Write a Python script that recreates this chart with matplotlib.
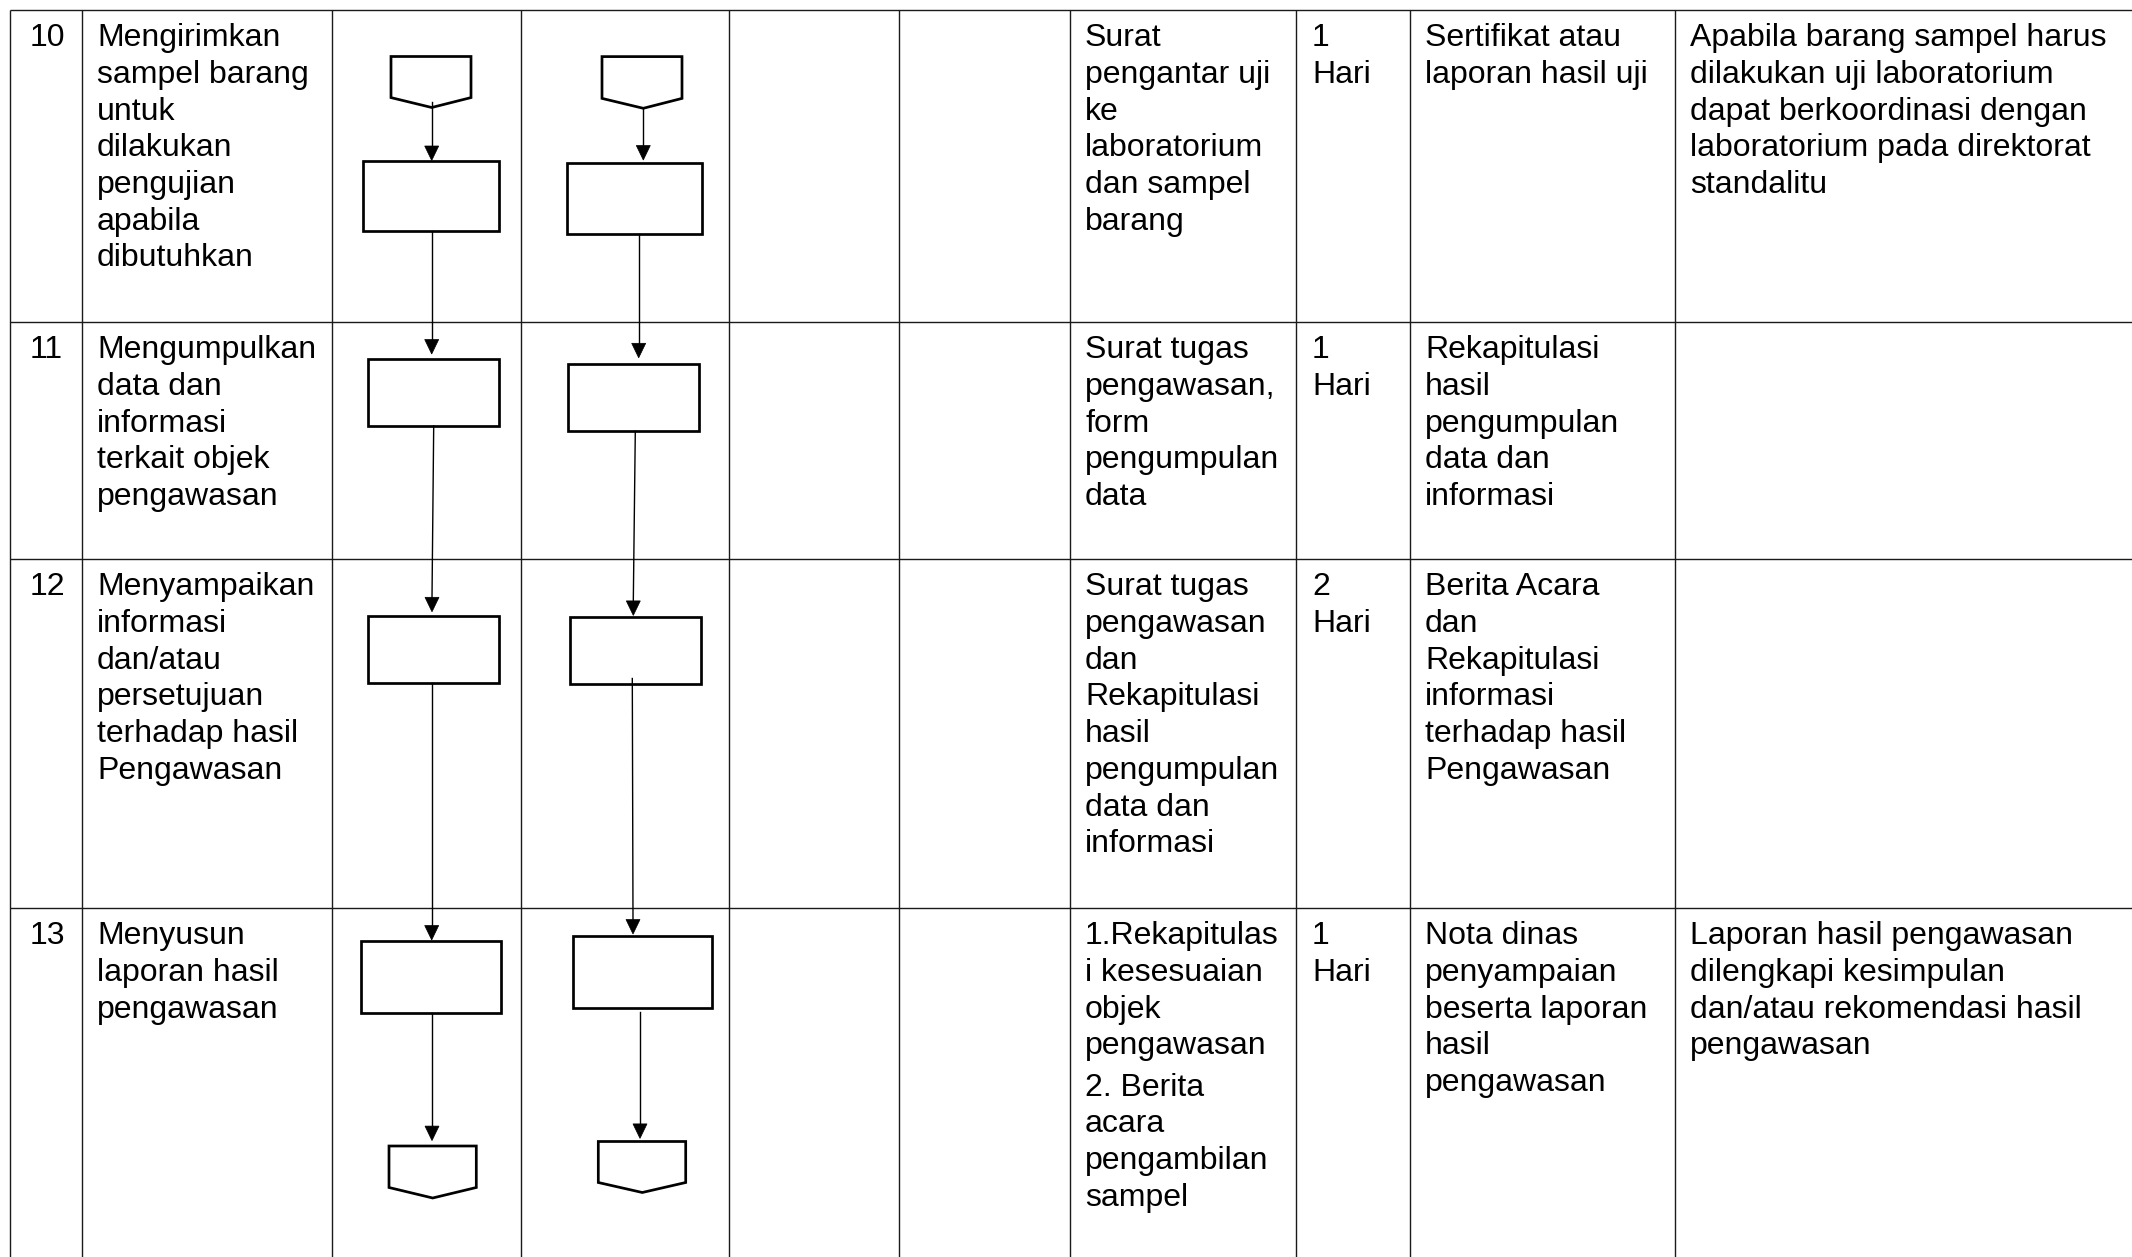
import matplotlib
matplotlib.use("Agg")
import matplotlib.pyplot as plt
from matplotlib.patches import Polygon, Rectangle

# ---------------- table content ----------------
step_numbers = ["10", "11", "12", "13"]

activities = [
    [["Mengirimkan", "sampel barang", "untuk", "dilakukan", "pengujian", "apabila", "dibutuhkan"]],
    [["Mengumpulkan", "data dan", "informasi", "terkait objek", "pengawasan"]],
    [["Menyampaikan", "informasi", "dan/atau", "persetujuan", "terhadap hasil", "Pengawasan"]],
    [["Menyusun", "laporan hasil", "pengawasan"]],
]

requirements = [
    [["Surat", "pengantar uji", "ke", "laboratorium", "dan sampel", "barang"]],
    [["Surat tugas", "pengawasan,", "form", "pengumpulan", "data"]],
    [["Surat tugas", "pengawasan", "dan", "Rekapitulasi", "hasil", "pengumpulan", "data dan", "informasi"]],
    [["1.Rekapitulas", "i kesesuaian", "objek", "pengawasan"],
     ["2. Berita", "acara", "pengambilan", "sampel"]],
]

durations = [
    [["1", "Hari"]],
    [["1", "Hari"]],
    [["2", "Hari"]],
    [["1", "Hari"]],
]

outputs = [
    [["Sertifikat atau", "laporan hasil uji"]],
    [["Rekapitulasi", "hasil", "pengumpulan", "data dan", "informasi"]],
    [["Berita Acara", "dan", "Rekapitulasi", "informasi", "terhadap hasil", "Pengawasan"]],
    [["Nota dinas", "penyampaian", "beserta laporan", "hasil", "pengawasan"]],
]

notes = [
    [["Apabila barang sampel harus", "dilakukan uji laboratorium",
      "dapat berkoordinasi dengan", "laboratorium pada direktorat", "standalitu"]],
    [],
    [],
    [["Laporan hasil pengawasan", "dilengkapi kesimpulan",
      "dan/atau rekomendasi hasil", "pengawasan"]],
]

# ---------------- layout (pixels) ----------------
W, H = 2132, 1257
col_edges = [10, 82, 332, 521, 729, 899, 1070, 1296, 1410, 1675]
row_edges = [10, 322, 559, 908]
LINE_H = 36.7
PARA_GAP = 4.5
FIRST_BASE = 36.3
FS = 23

fig = plt.figure(figsize=(W / 100, H / 100), dpi=100)
ax = fig.add_axes([0, 0, 1, 1])
ax.set_xlim(0, W)
ax.set_ylim(H, 0)
ax.axis("off")

TABLE_KW = dict(color="#1a1a1a", lw=1.0, solid_capstyle="butt")
for x in col_edges:
    ax.plot([x, x], [row_edges[0], H], **TABLE_KW)
for y in row_edges:
    ax.plot([col_edges[0], W], [y, y], **TABLE_KW)

TEXT_KW = dict(fontsize=FS, family=["Liberation Sans", "DejaVu Sans"],
               color="black", va="baseline", ha="left")


def put_paragraphs(x, top, paragraphs):
    y = top + FIRST_BASE
    for p_i, para in enumerate(paragraphs):
        if p_i > 0:
            y += PARA_GAP
        for line in para:
            ax.text(x, y, line, **TEXT_KW)
            y += LINE_H


for r, top in enumerate(row_edges):
    ax.text(30, top + FIRST_BASE, step_numbers[r], **TEXT_KW)
    put_paragraphs(col_edges[1] + 15, top, activities[r])
    put_paragraphs(col_edges[6] + 15, top, requirements[r])
    put_paragraphs(col_edges[7] + 16, top, durations[r])
    put_paragraphs(col_edges[8] + 15, top, outputs[r])
    put_paragraphs(col_edges[9] + 15, top, notes[r])

# ---------------- flowchart shapes ----------------
SHAPE_LW = 1.95
ARROW_LW = 1.0

lanes = [
    dict(
        conn_top=(391, 471, 56.5, 97.6, 431.7, 107.5),
        rects=[(363.3, 160.7, 498.7, 231.2), (367.7, 359, 499, 426),
               (367.7, 616.3, 499, 683), (361, 941, 500.7, 1013)],
        conn_bot=(389, 476.3, 1146, 1187.5, 432.7, 1198),
        arrows=[((431.7, 102), (431.7, 160.5)), ((431.7, 231.2), (431.7, 354)),
                ((433.7, 426), (432, 611.8)), ((431.7, 683), (431.7, 940)),
                ((432, 1013), (432, 1140.6))],
    ),
    dict(
        conn_top=(602, 682, 56.6, 98.4, 643.3, 108.3),
        rects=[(566.7, 163.4, 702.3, 234.2), (567.7, 364, 699, 431.3),
               (570, 617, 701, 684), (572.7, 935.5, 712.3, 1008)],
        conn_bot=(598.3, 685.7, 1141.5, 1182.5, 642.3, 1192.5),
        arrows=[((643.3, 108.3), (643.3, 160)), ((638.7, 234.2), (638.7, 357.8)),
                ((635.3, 431.3), (633.3, 615.4)), ((632.3, 678.5), (633, 934)),
                ((640, 1012), (640, 1138.4))],
    ),
]

HEAD_L, HEAD_HW = 14.5, 7.0

for lane in lanes:
    for (x0, y0, x1, y1) in lane["rects"]:
        ax.add_patch(Rectangle((x0, y0), x1 - x0, y1 - y0, fill=True,
                               facecolor="white", edgecolor="black",
                               lw=SHAPE_LW, zorder=3))
    for key in ("conn_top", "conn_bot"):
        xl, xr, yt, ys, px, py = lane[key]
        ax.add_patch(Polygon([(xl, yt), (xr, yt), (xr, ys), (px, py), (xl, ys)],
                             closed=True, facecolor="white", edgecolor="black",
                             lw=SHAPE_LW, joinstyle="miter", zorder=3))
    for (sx, sy), (ex, ey) in lane["arrows"]:
        ax.plot([sx, ex], [sy, ey - HEAD_L + 1], color="black", lw=ARROW_LW, zorder=4)
        ax.add_patch(Polygon([(ex, ey), (ex - HEAD_HW, ey - HEAD_L), (ex + HEAD_HW, ey - HEAD_L)],
                             closed=True, facecolor="black", edgecolor="black",
                             lw=0.5, zorder=4))

fig.savefig("out.png", dpi=100, facecolor="white")
